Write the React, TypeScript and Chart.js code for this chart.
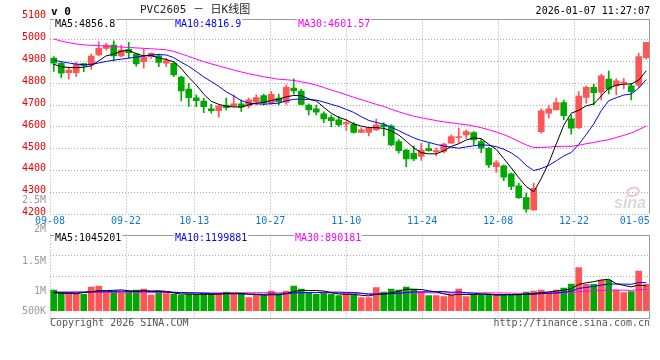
import { useEffect, useRef } from "react";
import { Chart, registerables } from "chart.js";

Chart.register(...registerables);

// ---------- data ----------
const dates = ["09-08","09-09","09-10","09-11","09-12","09-15","09-16","09-17","09-18","09-19",
"09-22","09-23","09-24","09-25","09-26","09-29","09-30","10-09","10-10","10-13",
"10-14","10-15","10-16","10-17","10-20","10-21","10-22","10-23","10-24","10-27",
"10-28","10-29","10-30","10-31","11-03","11-04","11-05","11-06","11-07","11-10",
"11-11","11-12","11-13","11-14","11-17","11-18","11-19","11-20","11-21","11-24",
"11-25","11-26","11-27","11-28","12-01","12-02","12-03","12-04","12-05","12-08",
"12-09","12-10","12-11","12-12","12-15","12-16","12-17","12-18","12-19","12-22",
"12-23","12-24","12-25","12-26","12-29","12-30","12-31","01-05","01-06","01-07"];

const opens = [4912,4889,4846,4846,4887,4881,4927,4957,4972,4922,
4953,4931,4896,4919,4923,4889,4889,4826,4771,4731,
4716,4680,4672,4697,4694,4703,4694,4711,4741,4706,
4729,4711,4775,4762,4698,4680,4657,4640,4630,4611,
4610,4572,4572,4584,4607,4602,4530,4492,4477,4462,
4498,4483,4485,4523,4549,4561,4572,4530,4500,4416,
4419,4383,4328,4274,4218,4576,4660,4675,4709,4634,
4594,4733,4779,4756,4816,4785,4798,4785,4789,4914];

const highs = [4919,4893,4873,4893,4887,4931,4987,4980,4991,4972,
4985,4934,4953,4937,4931,4911,4896,4830,4797,4744,
4729,4701,4698,4729,4744,4721,4729,4744,4748,4759,
4748,4790,4817,4770,4703,4698,4666,4652,4645,4626,
4617,4594,4592,4633,4617,4607,4540,4495,4511,4523,
4523,4502,4523,4561,4592,4584,4576,4541,4505,4443,
4424,4388,4340,4295,4340,4680,4698,4729,4720,4653,
4759,4785,4792,4838,4853,4817,4820,4797,4934,4985];

const lows = [4851,4823,4816,4827,4850,4861,4922,4949,4899,4919,
4911,4876,4866,4911,4873,4873,4827,4716,4690,4690,
4663,4660,4642,4675,4690,4668,4685,4698,4698,4701,
4698,4701,4747,4698,4652,4652,4617,4599,4600,4581,
4569,4572,4556,4581,4556,4511,4477,4416,4443,4444,
4487,4465,4478,4523,4526,4545,4515,4480,4412,4389,
4352,4310,4270,4206,4215,4569,4637,4675,4630,4564,
4590,4706,4698,4721,4748,4744,4771,4721,4779,4907];

const closes = [4889,4843,4858,4885,4878,4922,4957,4972,4922,4949,
4937,4886,4916,4934,4893,4901,4835,4762,4731,4718,
4690,4672,4694,4686,4703,4688,4721,4732,4706,4747,
4713,4779,4762,4701,4675,4665,4634,4626,4607,4617,
4572,4584,4592,4607,4599,4515,4489,4451,4451,4492,
4489,4489,4519,4553,4553,4576,4538,4500,4424,4434,
4368,4325,4274,4221,4317,4671,4680,4709,4649,4592,
4739,4779,4754,4831,4770,4808,4802,4759,4919,4985];

const ma5 = [4884,4873,4869,4869,4870.6,4877.2,4900,4922.8,4930.2,4944.4,
4947.4,4933.2,4922,4924.4,4913.2,4906,4895.8,4865,4824.4,4789.4,
4747.2,4714.6,4701,4692,4689,4688.6,4698.4,4706,4710,4718.8,
4723.8,4735.4,4741.4,4740.4,4726,4716.4,4687.4,4660.2,4641.4,4629.8,
4611.2,4601.2,4594.4,4594.4,4590.8,4579.4,4560.4,4532.2,4501,4479.6,
4474.4,4474.4,4488,4508.4,4520.6,4538,4547.8,4544,4518.2,4494.4,
4452.8,4410.2,4365,4324.4,4301,4361.6,4432.6,4519.6,4605.2,4660.2,
4673.8,4693.6,4702.6,4739,4774.6,4788.4,4793,4794,4811.6,4854.6];

const ma10 = [4903,4896,4890,4885,4882,4884,4890,4897,4903,4907.5,
4912.3,4916.6,4922.4,4927.3,4928.8,4926.7,4914.5,4893.5,4874.4,4851.3,
4826.6,4805.2,4783,4758.2,4739.2,4717.9,4706.5,4703.5,4701,4703.9,
4706.2,4716.9,4723.7,4725.2,4722.4,4720.1,4711.4,4700.8,4690.9,4677.9,
4663.8,4644.3,4627.3,4617.9,4610.3,4595.3,4580.8,4563.3,4547.7,4535.2,
4526.9,4517.4,4510.1,4504.7,4500.1,4506.2,4511.1,4516,4513.3,4507.5,
4495.4,4479,4454.5,4421.3,4397.7,4407.2,4421.4,4442.3,4464.8,4480.6,
4517.7,4563.1,4611.1,4672.1,4717.4,4731.1,4743.3,4748.3,4775.3,4814.6];

const ma30 = [5000,4990,4983,4977,4973,4971,4969,4967,4965,4963,
4961,4959,4957,4955,4953,4950,4943,4932,4920,4908,
4896,4886,4877,4867,4858,4849,4841,4834,4827,4821.4,
4815.5,4813.4,4810.2,4804,4797.3,4788.7,4777.9,4766.4,4755.9,4744.8,
4732.6,4722.5,4711.7,4700.8,4691,4678.1,4666.6,4656.2,4646.9,4639.4,
4632.7,4626.6,4620.8,4616.4,4611.4,4607.7,4601.6,4593.9,4584.5,4574.1,
4562.6,4547.5,4531.2,4515.2,4503.3,4503.5,4505,4507.8,4509.2,4508.4,
4514,4520.5,4525.9,4533.4,4539.1,4548.9,4559.3,4569.6,4585,4601.6];

const volumes = [879000,781000,781000,738000,696000,1007000,1050000,781000,809000,766000,
837000,879000,922000,667000,781000,724000,696000,667000,696000,696000,
738000,696000,738000,795000,738000,696000,554000,667000,639000,837000,
696000,837000,1050000,922000,781000,696000,738000,696000,639000,724000,
667000,554000,554000,979000,795000,922000,879000,1007000,922000,781000,
639000,639000,596000,667000,922000,596000,667000,667000,696000,696000,
667000,667000,667000,795000,837000,879000,795000,879000,965000,1135000,
1829000,1121000,1121000,1305000,1305000,879000,766000,809000,1687000,1121000];

const volMa5 = [760000,745000,735000,720000,775000,801000,854000,854000,869000,883000,
849000,814000,843000,814000,817000,795000,758000,707000,713000,696000,
699000,699000,713000,733000,741000,733000,704000,690000,659000,679000,
679000,735000,812000,868000,857000,857000,837000,767000,710000,699000,
693000,656000,628000,696000,710000,761000,826000,916000,905000,902000,
846000,798000,715000,664000,693000,684000,690000,704000,710000,664000,
679000,679000,679000,698000,727000,769000,795000,837000,871000,931000,
1121000,1186000,1234000,1302000,1336000,1146000,1075000,1013000,1089000,1052000];

const volMa10 = [790000,785000,785000,790000,795000,800000,805000,810000,820000,829000,
825000,834000,849000,841000,850000,822000,786000,775000,764000,757000,
747000,728000,710000,723000,718000,716000,701000,701000,696000,710000,
706000,720000,751000,764000,768000,768000,786000,789000,789000,778000,
775000,747000,697000,703000,704000,727000,741000,772000,800000,806000,
803000,812000,816000,785000,797000,765000,744000,710000,687000,679000,
681000,684000,691000,704000,696000,724000,737000,758000,785000,829000,
945000,990000,1036000,1087000,1133000,1133000,1131000,1124000,1196000,1194000];

const volMa30 = [785000,785000,784000,784000,783000,783000,782000,782000,781000,781000,
780000,780000,779000,778000,777000,765000,762000,760000,758000,757000,
756000,756000,757000,758000,760000,761000,762000,763000,764000,765000,
759000,761000,770000,776000,779000,768000,758000,755000,749000,748000,
742000,732000,719000,730000,730000,737000,743000,754000,762000,765000,
761000,759000,755000,750000,757000,753000,757000,757000,759000,754000,
753000,748000,735000,731000,732000,738000,740000,746000,757000,771000,
810000,829000,848000,858000,875000,874000,870000,864000,889000,900000];

const priceTicks = [4200,4300,4400,4500,4600,4700,4800,4900,5000,5100];
const axisDates = ["09-08","09-22","10-13","10-27","11-10","11-24","12-08","12-22","01-05"];
const gridDates = ["09-08","09-22","10-13","10-27","11-10","11-24","12-08","12-22"];
const priceLegend = ["MA5:4856.8","MA10:4816.9","MA30:4601.57"];
const volumeLegend = ["MA5:1045201","MA10:1199881","MA30:890181"];
const volumeAxisLabels = ["2.5M","2M","1.5M","1M","500K"];
const headerLeft = "v 0";
const headerTitle = "PVC2605 － 日K线图";
const headerTime = "2026-01-07 11:27:07";
const footerLeft = "Copyright 2026 SINA.COM";
const footerRight = "http://finance.sina.com.cn";

// ---------- style ----------
const UP = "#ff5555";
const DOWN = "#00a800";
const GRID = "#a8a8a8";
const BORDER = "#999999";
const MA_COLORS = ["#000000", "#0000ff", "#ff00ff"];
const MONO = '"DejaVu Sans Mono", monospace';
const FONT10 = "10px " + MONO;

const candleColors = closes.map((c, i) => (c >= opens[i] ? UP : DOWN));

function hLine(ctx: any, x1: number, x2: number, y: number) {
  ctx.beginPath();
  ctx.moveTo(x1, y);
  ctx.lineTo(x2, y);
  ctx.stroke();
}
function vLine(ctx: any, x: number, y1: number, y2: number) {
  ctx.beginPath();
  ctx.moveTo(x, y1);
  ctx.lineTo(x, y2);
  ctx.stroke();
}
function txt(ctx: any, s: string, x: number, y: number, color: string, align: string = "left", font: string = FONT10, bg = false) {
  ctx.font = font;
  ctx.textAlign = align;
  ctx.textBaseline = "middle";
  if (bg) {
    const w = ctx.measureText(s).width;
    const left = align === "left" ? x : align === "right" ? x - w : x - w / 2;
    ctx.fillStyle = "#ffffff";
    ctx.fillRect(left - 1, y - 5, w + 2, 10);
  }
  ctx.fillStyle = color;
  ctx.fillText(s, x, y);
}
function drawVerticalGrid(chart: any, top: number) {
  const { ctx, chartArea: a, scales } = chart;
  const xg = scales.xg;
  for (const d of gridDates) {
    const px = Math.round(xg.getPixelForValue(dates.indexOf(d))) + 0.5;
    vLine(ctx, px, top, a.bottom);
  }
}

const mainDecor = {
  id: "mainDecor",
  beforeDatasetsDraw(chart: any) {
    const { ctx, chartArea: a, scales } = chart;
    const y = scales.y;
    const boxTop = Math.round(a.top + 2.2) + 0.5;
    ctx.save();
    ctx.strokeStyle = GRID;
    ctx.lineWidth = 1;
    ctx.setLineDash([1, 2]);
    for (const v of priceTicks) {
      if (v === priceTicks[priceTicks.length - 1]) continue;
      const py = Math.round(y.getPixelForValue(v)) + 0.5;
      hLine(ctx, a.left, a.right, py);
    }
    drawVerticalGrid(chart, boxTop);
    ctx.setLineDash([]);
    // watermark
    ctx.strokeStyle = "#f2c4c4";
    ctx.lineWidth = 2;
    ctx.beginPath();
    ctx.ellipse(a.right - 17, a.bottom - 22, 6, 4, -0.3, 0, Math.PI * 2);
    ctx.stroke();
    txt(ctx, "sina", a.right - 20, a.bottom - 10, "#d9d9d9", "center", "italic bold 16px Arial, sans-serif");
    ctx.restore();
  },
  afterDraw(chart: any) {
    const { ctx, chartArea: a, scales } = chart;
    const y = scales.y;
    const xg = scales.xg;
    const boxTop = Math.round(a.top + 2.2) + 0.5;
    ctx.save();
    ctx.strokeStyle = BORDER;
    ctx.lineWidth = 1;
    hLine(ctx, a.left, a.right, boxTop);
    vLine(ctx, a.right - 0.5, boxTop, a.bottom);
    // legend
    const legendX = [a.left + 5, a.left + 125, a.left + 248];
    priceLegend.forEach((s, i) => txt(ctx, s, legendX[i], boxTop + 4.5, MA_COLORS[i], "left", FONT10, true));
    // y labels
    for (const v of priceTicks) {
      txt(ctx, String(v), a.left - 4, y.getPixelForValue(v) - 1.3, "#ee0000", "right");
    }
    txt(ctx, volumeAxisLabels[0], a.left - 4, a.bottom - 13.5, "#999999", "right");
    // x labels
    ctx.font = FONT10;
    for (const d of axisDates) {
      const w = ctx.measureText(d).width;
      let cx = xg.getPixelForValue(dates.indexOf(d));
      cx = Math.min(cx, a.right - w / 2);
      txt(ctx, d, cx, a.bottom + 7.5, "#1177d4", "center");
    }
    // header
    txt(ctx, headerLeft, a.left + 1, 12, "#000000", "left", "bold 11px " + MONO);
    txt(ctx, headerTitle, 140, 10.5, "#222222", "left", '11px "DejaVu Sans Mono", "Noto Sans CJK SC", sans-serif');
    txt(ctx, headerTime, a.right, 11, "#000000", "right");
    ctx.restore();
  },
};

const volDecor = {
  id: "volDecor",
  beforeDatasetsDraw(chart: any) {
    const { ctx, chartArea: a } = chart;
    ctx.save();
    ctx.strokeStyle = GRID;
    ctx.lineWidth = 1;
    ctx.setLineDash([1, 2]);
    for (const f of [0.25, 0.5]) {
      hLine(ctx, a.left, a.right, Math.round(a.top + a.height * f) + 0.5);
    }
    drawVerticalGrid(chart, a.top);
    ctx.restore();
  },
  afterDraw(chart: any) {
    const { ctx, chartArea: a } = chart;
    ctx.save();
    ctx.strokeStyle = BORDER;
    ctx.lineWidth = 1;
    const top = Math.round(a.top) + 0.5;
    const bottom = Math.round(a.bottom) + 0.5;
    hLine(ctx, a.left, a.right, top);
    hLine(ctx, a.left, a.right, bottom);
    vLine(ctx, a.right - 0.5, top, bottom);
    const legendX = [a.left + 5, a.left + 125, a.left + 245];
    volumeLegend.forEach((s, i) => txt(ctx, s, legendX[i], a.top + 3.8, MA_COLORS[i], "left", FONT10, true));
    const labelOffsets = [-5.7, 26.3, 56.3, 76.3];
    volumeAxisLabels.slice(1).forEach((s, i) => txt(ctx, s, a.left - 4, a.top + labelOffsets[i], "#999999", "right"));
    txt(ctx, footerLeft, a.left, a.bottom + 6, "#555555", "left");
    txt(ctx, footerRight, a.right, a.bottom + 6, "#555555", "right");
    ctx.restore();
  },
};

function lineDs(data: number[], color: string) {
  return {
    type: "line",
    data,
    borderColor: color,
    borderWidth: 1,
    pointRadius: 0,
    tension: 0,
    order: 0,
    xAxisID: "x",
    yAxisID: "y",
  };
}

const baseOptions = (padding: any, yMin: number, yMax: number) => ({
  responsive: false,
  animation: false,
  devicePixelRatio: 1,
  events: [],
  layout: { padding },
  scales: {
    x: { type: "category", offset: true, display: false, grid: { display: false } },
    xg: {
      type: "linear",
      axis: "x",
      position: "bottom",
      offset: false,
      bounds: "data",
      grace: 0,
      min: 0,
      max: dates.length - 1,
      display: false,
      grid: { offset: false },
    },
    y: { type: "linear", min: yMin, max: yMax, display: false },
  },
  plugins: { legend: { display: false }, tooltip: { enabled: false } },
});

export default function App() {
  const mainRef = useRef<HTMLCanvasElement>(null);
  const volRef = useRef<HTMLCanvasElement>(null);

  useEffect(() => {
    const bodies = opens.map((o, i) => [Math.min(o, closes[i]), Math.max(o, closes[i])]);
    const wicks = lows.map((l, i) => [l, highs[i]]);

    const main = new Chart(mainRef.current as any, {
      type: "bar",
      data: {
        labels: dates,
        datasets: [
          lineDs(ma5, MA_COLORS[0]),
          lineDs(ma10, MA_COLORS[1]),
          lineDs(ma30, MA_COLORS[2]),
          {
            type: "bar",
            data: bodies,
            backgroundColor: candleColors,
            barThickness: 6,
            minBarLength: 1,
            grouped: false,
            order: 1,
            xAxisID: "x",
            yAxisID: "y",
          },
          {
            type: "bar",
            data: wicks,
            backgroundColor: candleColors,
            barThickness: 1,
            grouped: false,
            order: 2,
            xAxisID: "x",
            yAxisID: "y",
          },
        ],
      } as any,
      options: baseOptions({ left: 50, right: 10, top: 17.1, bottom: 18.2 }, 4200, 5100) as any,
      plugins: [mainDecor],
    });

    const vol = new Chart(volRef.current as any, {
      type: "bar",
      data: {
        labels: dates,
        datasets: [
          lineDs(volMa5, MA_COLORS[0]),
          lineDs(volMa10, MA_COLORS[1]),
          lineDs(volMa30, MA_COLORS[2]),
          {
            type: "bar",
            data: volumes,
            backgroundColor: candleColors,
            barThickness: 6,
            grouped: false,
            order: 1,
            xAxisID: "x",
            yAxisID: "y",
          },
        ],
      } as any,
      options: baseOptions({ left: 50, right: 10, top: 10.7, bottom: 42.3 }, -297500, 3230000) as any,
      plugins: [volDecor],
    });

    return () => {
      main.destroy();
      vol.destroy();
    };
  }, []);

  return (
    <div style={{ position: "absolute", left: 0, top: 0, width: 660, height: 360, background: "#ffffff" }}>
      <canvas ref={mainRef} width={660} height={232} style={{ position: "absolute", left: 0, top: 0, width: 660, height: 232 }} />
      <canvas ref={volRef} width={660} height={136} style={{ position: "absolute", left: 0, top: 224, width: 660, height: 136 }} />
    </div>
  );
}
